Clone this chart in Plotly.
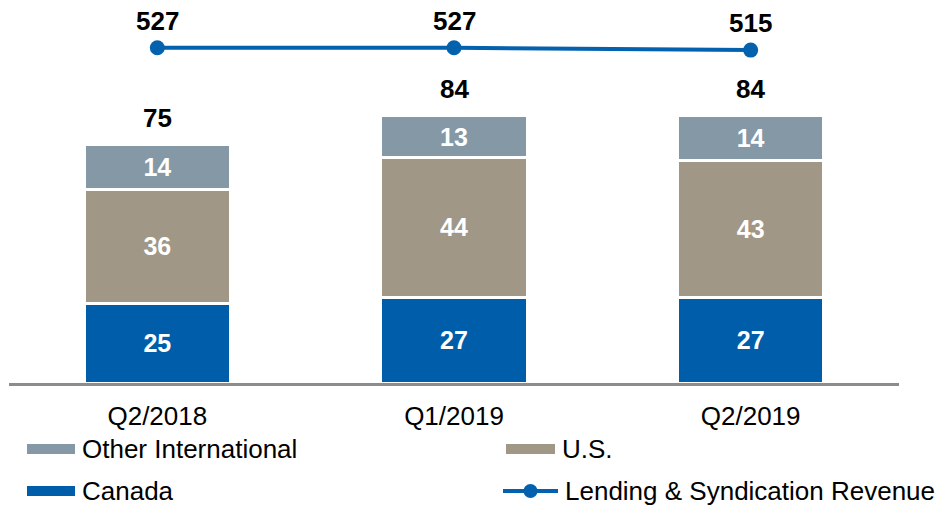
import plotly.graph_objects as go

# Lending & syndication revenue by region (stacked) with total revenue line
quarters = ["Q2/2018", "Q1/2019", "Q2/2019"]
canada = [25, 27, 27]
us = [36, 44, 43]
other_intl = [14, 13, 14]
totals = [75, 84, 84]
lending_revenue = [527, 527, 515]

C_CANADA = "#005DAA"
C_US = "#A09786"
C_OTHER = "#8598A5"
C_LINE = "#0461AD"
FONT = "Arial, Liberation Sans, sans-serif"

fig = go.Figure()

for name, vals, col in [("Canada", canada, C_CANADA),
                        ("U.S.", us, C_US),
                        ("Other International", other_intl, C_OTHER)]:
    fig.add_trace(go.Bar(
        x=quarters, y=vals, name=name,
        marker=dict(color=col, line=dict(color="white", width=3)),
        text=[str(v) for v in vals], textposition="inside",
        insidetextanchor="middle", textangle=0,
        textfont=dict(family=FONT, size=25, color="white", weight="bold"),
        constraintext="none", showlegend=False,
    ))

fig.add_trace(go.Scatter(
    x=quarters, y=lending_revenue, yaxis="y2", mode="lines+markers",
    line=dict(color=C_LINE, width=4), marker=dict(color=C_LINE, size=15),
    showlegend=False, name="Lending & Syndication Revenue",
))

annotations = []
for q, t in zip(quarters, totals):
    annotations.append(dict(x=q, y=t, xref="x", yref="y", text=str(t),
                            showarrow=False, yanchor="middle", yshift=27,
                            font=dict(family=FONT, size=26, color="black", weight="bold")))
for q, v in zip(quarters, lending_revenue):
    annotations.append(dict(x=q, y=v, xref="x", yref="y2", text=str(v),
                            showarrow=False, yanchor="middle", yshift=27,
                            font=dict(family=FONT, size=26, color="black", weight="bold")))

# Legend drawn in paper coordinates (plot area: x 9..899 px, y 0..383 px)
L, W, H = 9, 890, 383


def px_x(p):
    return (p - L) / W


def px_y(p):
    return (H - p) / H


shapes = []
legend_items = [
    ("Other International", C_OTHER, 27, 75, 449, "bar"),
    ("U.S.", C_US, 506, 555, 449, "bar"),
    ("Canada", C_CANADA, 27, 75, 491, "bar"),
    ("Lending & Syndication Revenue", C_LINE, 503, 558, 491, "line"),
]
for label, col, x0, x1, yc, kind in legend_items:
    if kind == "bar":
        shapes.append(dict(type="rect", xref="paper", yref="paper",
                           x0=px_x(x0), x1=px_x(x1), y0=px_y(yc + 5), y1=px_y(yc - 5),
                           fillcolor=col, line=dict(width=0)))
    else:
        shapes.append(dict(type="line", xref="paper", yref="paper",
                           x0=px_x(x0), x1=px_x(x1), y0=px_y(yc), y1=px_y(yc),
                           line=dict(color=col, width=4)))
        xm = (x0 + x1) / 2
        shapes.append(dict(type="circle", xref="paper", yref="paper",
                           x0=px_x(xm - 7), x1=px_x(xm + 7), y0=px_y(yc + 7), y1=px_y(yc - 7),
                           fillcolor=col, line=dict(width=0)))
    annotations.append(dict(x=px_x(x1 + 5), y=px_y(yc), xref="paper", yref="paper",
                            text=label, showarrow=False, xanchor="left", yanchor="middle",
                            font=dict(family=FONT, size=26, color="black")))

fig.update_layout(
    width=940, height=507,
    margin=dict(l=L, r=940 - L - W, t=0, b=507 - H),
    paper_bgcolor="white", plot_bgcolor="white",
    barmode="stack", bargap=0.507,
    showlegend=False,
    xaxis=dict(showline=True, linecolor="#8C8C8C", linewidth=3, ticks="",
               showgrid=False, ticklabelstandoff=8,
               tickfont=dict(family=FONT, size=26, color="black")),
    yaxis=dict(range=[0, H / 3.18], visible=False, showgrid=False, zeroline=False),
    yaxis2=dict(range=[527 + 47.7 / 0.2 - H / 0.2, 527 + 47.7 / 0.2], overlaying="y",
                visible=False, showgrid=False, zeroline=False),
    shapes=shapes,
    annotations=annotations,
)

fig.write_html("out.html")
